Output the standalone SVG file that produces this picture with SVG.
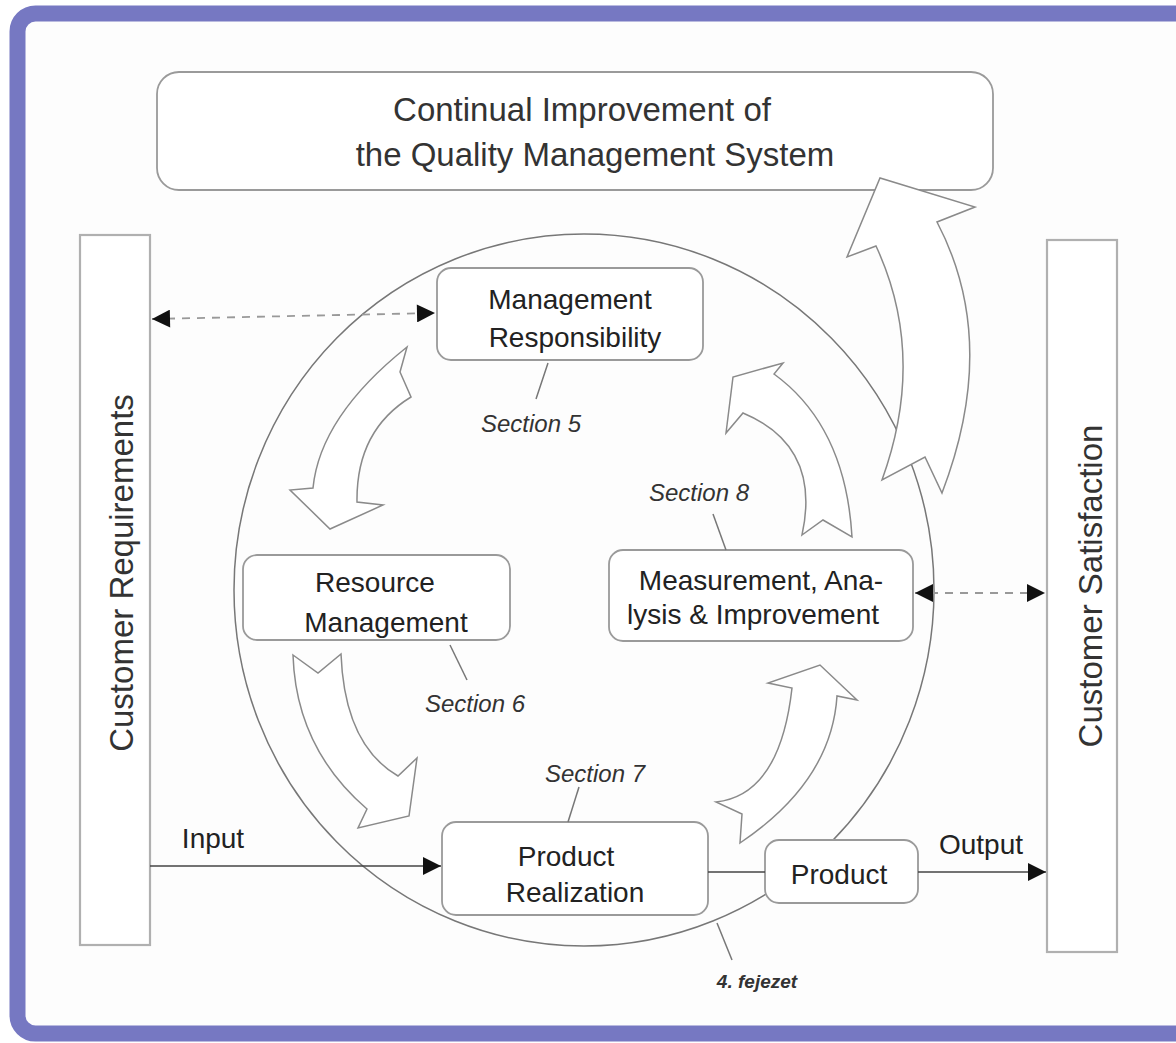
<svg xmlns="http://www.w3.org/2000/svg" width="1176" height="1043" viewBox="0 0 1176 1043">
<defs>
<marker id="ah" viewBox="0 0 10 10" refX="10" refY="5" markerWidth="26" markerHeight="18" markerUnits="userSpaceOnUse" orient="auto-start-reverse">
<path d="M0,0 L10,5 L0,10 Z" fill="#111"/>
</marker>
</defs>
<style>
.box{fill:#fff;stroke:#9a9a9a;stroke-width:1.8}
.bar{fill:#fff;stroke:#b0b0b0;stroke-width:2.2}
.ba{fill:#fff;stroke:#8a8a8a;stroke-width:1.5;stroke-linejoin:miter}
.t{font-family:"Liberation Sans",Arial,sans-serif;font-size:28px;fill:#222;text-anchor:middle}
.tt{font-family:"Liberation Sans",Arial,sans-serif;font-size:33px;fill:#333;text-anchor:middle}
.s{font-family:"Liberation Sans",Arial,sans-serif;font-size:24px;font-style:italic;fill:#333;text-anchor:middle}
.f{font-family:"Liberation Sans",Arial,sans-serif;font-size:19px;font-style:italic;font-weight:bold;fill:#333;text-anchor:middle}
.lead{stroke:#777;stroke-width:1.5;fill:none}
.solid{stroke:#444;stroke-width:1.5;fill:none}
.dash{stroke:#999;stroke-width:1.8;stroke-dasharray:8,7;fill:none}
</style>
<rect width="1176" height="1043" fill="#fff"/>
<rect x="17.5" y="13.5" width="1180" height="1020" rx="18" fill="#fdfdfd" stroke="#7678c2" stroke-width="16"/>

<ellipse id="scope" cx="584" cy="590" rx="350" ry="356" fill="none" stroke="#777" stroke-width="1.5"/>

<g id="title">
<rect class="box" x="157" y="72" width="836" height="118" rx="22"/>
<text class="tt" x="582" y="121">Continual Improvement of</text>
<text class="tt" x="595" y="166">the Quality Management System</text>
</g>

<g id="customer-requirements">
<rect class="bar" x="80" y="235" width="70" height="710"/>
<text class="tt" transform="translate(133,573) rotate(-90)">Customer Requirements</text>
</g>

<g id="customer-satisfaction">
<rect class="bar" x="1047" y="240" width="70" height="712"/>
<text class="tt" transform="translate(1102,586) rotate(-90)">Customer Satisfaction</text>
</g>

<g id="cycle-arrows">
<path class="ba" d="M407,347 Q320,416.5 313,488 L290,490 L330,529 L383,505 L357,502 Q356,430.5 411,397 L400,372 Z"/>
<path class="ba" d="M293,655 L318,673 L341,654 Q344.5,745 398,776 L417,758 L409,816 L358,828 L367,809 Q296,748 293,655 Z"/>
<path class="ba" d="M716,802 Q780,795 792,688 L768,683 L820,665 L857,700 L837,696 Q831.5,781.5 740,843 L742,814 Z"/>
<path class="ba" d="M802,535 L823,520 L852,537 Q845.5,426 774,374 L783,363 L733,377 L726,433 L743,413 Q821.5,446 802,535 Z"/>
</g>

<g id="improvement-arrow">
<path class="ba" d="M847,257 L880,178 L975,207 L937,222 Q1000,342 942,493 L925,457 L882,480 Q927,356 876,246 Z"/>
</g>

<g id="management-responsibility">
<rect class="box" x="437" y="268" width="266" height="92" rx="14"/>
<text class="t" x="570" y="309">Management</text>
<text class="t" x="575" y="347">Responsibility</text>
</g>

<g id="resource-management">
<rect class="box" x="243" y="555" width="267" height="85" rx="14"/>
<text class="t" x="375" y="592">Resource</text>
<text class="t" x="386" y="632">Management</text>
</g>

<g id="measurement">
<rect class="box" x="609" y="550" width="304" height="91" rx="14"/>
<text class="t" x="761" y="590">Measurement, Ana-</text>
<text class="t" x="753" y="624">lysis &amp; Improvement</text>
</g>

<g id="product-realization">
<rect class="box" x="442" y="822" width="266" height="93" rx="14"/>
<text class="t" x="566" y="866">Product</text>
<text class="t" x="575" y="902">Realization</text>
</g>

<g id="product">
<rect class="box" x="765" y="840" width="153" height="63" rx="14"/>
<text class="t" x="839" y="884">Product</text>
</g>

<g id="connectors">
<line class="dash" x1="152" y1="319" x2="435" y2="313" marker-start="url(#ah)" marker-end="url(#ah)"/>
<line class="dash" x1="915" y1="593" x2="1045" y2="593" marker-start="url(#ah)" marker-end="url(#ah)"/>
<line class="solid" x1="150" y1="866" x2="441" y2="866" marker-end="url(#ah)"/>
<line class="solid" x1="708" y1="872" x2="765" y2="872"/>
<line class="solid" x1="918" y1="872" x2="1046" y2="872" marker-end="url(#ah)"/>
<line class="lead" x1="548" y1="363" x2="536" y2="399"/>
<line class="lead" x1="450" y1="645" x2="467" y2="680"/>
<line class="lead" x1="579" y1="787" x2="568" y2="822"/>
<line class="lead" x1="713" y1="514" x2="726" y2="550"/>
<line class="lead" x1="717" y1="923" x2="732" y2="960"/>
</g>

<g id="labels">
<text class="s" x="531" y="432">Section 5</text>
<text class="s" x="699" y="501">Section 8</text>
<text class="s" x="475" y="712">Section 6</text>
<text class="s" x="595" y="782">Section 7</text>
<text class="t" x="213" y="848">Input</text>
<text class="t" x="981" y="854">Output</text>
<text class="f" x="757" y="988">4. fejezet</text>
</g>
</svg>
